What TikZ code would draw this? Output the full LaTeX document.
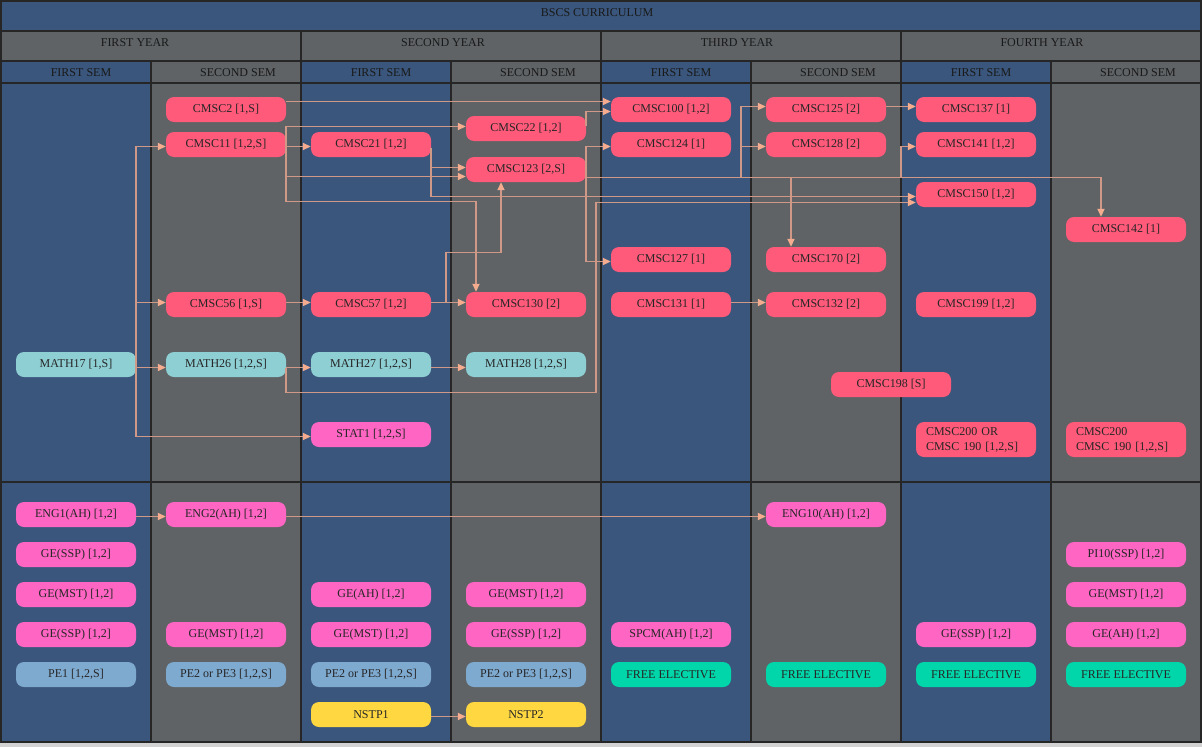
\documentclass[tikz,border=0pt]{standalone}
\usepackage{fontspec}
\setmainfont{Liberation Serif}
\usepackage{tikz}
\usetikzlibrary{positioning,arrows.meta,calc}
\definecolor{semblue}{RGB}{58,86,124}
\definecolor{semgray}{RGB}{95,99,102}
\definecolor{cscol}{RGB}{255,90,122}
\definecolor{mathcol}{RGB}{142,207,212}
\definecolor{gecol}{RGB}{255,102,196}
\definecolor{pecol}{RGB}{127,170,208}
\definecolor{nstpcol}{RGB}{255,215,64}
\definecolor{freecol}{RGB}{0,214,170}
\definecolor{arrcol}{RGB}{208,152,134}
\definecolor{tipcol}{RGB}{245,172,142}

\begin{document}
\begin{tikzpicture}[x=1pt,y=-1pt,
  cell/.style={draw=black!85,line width=1.2pt},
  hd/.style={font=\fontsize{12}{14}\selectfont,text=black!90},
  crs/.style={rounded corners=8pt,minimum width=120pt,minimum height=25pt,inner sep=0pt,font=\fontsize{12}{15}\selectfont,text=black!85},
  cs/.style={crs,fill=cscol},
  mth/.style={crs,fill=mathcol},
  ge/.style={crs,fill=gecol},
  pe/.style={crs,fill=pecol},
  nstp/.style={crs,fill=nstpcol},
  free/.style={crs,fill=freecol},
  arr/.style={draw=arrcol,line width=1.8pt,-{Triangle[length=8pt,width=7pt,color=tipcol]}}]
\useasboundingbox (0,0) rectangle (1202,747);
\fill[gray!35] (0,0) rectangle (1202,747);

% title and years
\draw[cell,fill=semblue] (1,1) rectangle (1201,31);
\node[hd] (title) at (597,13) {BSCS CURRICULUM};
\draw[cell,fill=semgray] (1,31) rectangle (301,61);
\draw[cell,fill=semgray] (301,31) rectangle (601,61);
\draw[cell,fill=semgray] (601,31) rectangle (901,61);
\draw[cell,fill=semgray] (901,31) rectangle (1201,61);
\node[hd] (y1) at (135,43) {FIRST YEAR};
\node[hd] (y2) at (443,43) {SECOND YEAR};
\node[hd] (y3) at (737,43) {THIRD YEAR};
\node[hd] (y4) at (1042,43) {FOURTH YEAR};

% semester columns
\draw[cell,fill=semblue] (1,61) rectangle (151,742);
\draw[cell,fill=semgray] (151,61) rectangle (301,742);
\draw[cell,fill=semblue] (301,61) rectangle (451,742);
\draw[cell,fill=semgray] (451,61) rectangle (601,742);
\draw[cell,fill=semblue] (601,61) rectangle (751,742);
\draw[cell,fill=semgray] (751,61) rectangle (901,742);
\draw[cell,fill=semblue] (901,61) rectangle (1051,742);
\draw[cell,fill=semgray] (1051,61) rectangle (1201,742);
\draw[cell] (1,83) -- (1201,83);
\draw[cell] (1,482) -- (1201,482);
\node[hd] (s1) at (81,73) {FIRST SEM};
\node[hd] (s2) at (238,73) {SECOND SEM};
\node[hd] (s3) at (381,73) {FIRST SEM};
\node[hd] (s4) at (538,73) {SECOND SEM};
\node[hd] (s5) at (681,73) {FIRST SEM};
\node[hd] (s6) at (838,73) {SECOND SEM};
\node[hd] (s7) at (981,73) {FIRST SEM};
\node[hd] (s8) at (1138,73) {SECOND SEM};

% major courses
\node[mth] (m17) at (76,364.5) {MATH17 [1,S]};
\node[cs] (c2) at (226,109.5) {CMSC2 [1,S]};
\node[cs] (c11) at (226,144.5) {CMSC11 [1,2,S]};
\node[cs] (c56) at (226,304.5) {CMSC56 [1,S]};
\node[mth] (m26) at (226,364.5) {MATH26 [1,2,S]};
\node[cs] (c21) at (371,144.5) {CMSC21 [1,2]};
\node[cs] (c57) at (371,304.5) {CMSC57 [1,2]};
\node[mth] (m27) at (371,364.5) {MATH27 [1,2,S]};
\node[ge] (st1) at (371,434.5) {STAT1 [1,2,S]};
\node[cs] (c22) at (526,128.5) {CMSC22 [1,2]};
\node[cs] (c123) at (526,169.5) {CMSC123 [2,S]};
\node[cs] (c130) at (526,304.5) {CMSC130 [2]};
\node[mth] (m28) at (526,364.5) {MATH28 [1,2,S]};
\node[cs] (c100) at (671,109.5) {CMSC100 [1,2]};
\node[cs] (c124) at (671,144.5) {CMSC124 [1]};
\node[cs] (c127) at (671,259.5) {CMSC127 [1]};
\node[cs] (c131) at (671,304.5) {CMSC131 [1]};
\node[cs] (c125) at (826,109.5) {CMSC125 [2]};
\node[cs] (c128) at (826,144.5) {CMSC128 [2]};
\node[cs] (c170) at (826,259.5) {CMSC170 [2]};
\node[cs] (c132) at (826,304.5) {CMSC132 [2]};
\node[cs] (c198) at (891,384.5) {CMSC198 [S]};
\node[cs] (c137) at (976,109.5) {CMSC137 [1]};
\node[cs] (c141) at (976,144.5) {CMSC141 [1,2]};
\node[cs] (c150) at (976,194.5) {CMSC150 [1,2]};
\node[cs] (c199) at (976,304.5) {CMSC199 [1,2]};
\node[cs,minimum height=35pt,text width=100pt,align=left] (c200a) at (976,439.5) {CMSC200 OR\\CMSC 190 [1,2,S]};
\node[cs] (c142) at (1126,229.5) {CMSC142 [1]};
\node[cs,minimum height=35pt,text width=100pt,align=left] (c200b) at (1126,439.5) {CMSC200\\CMSC 190 [1,2,S]};

% general education
\node[ge] (eng1) at (76,514.5) {ENG1(AH) [1,2]};
\node[ge] (ge1a) at (76,554.5) {GE(SSP) [1,2]};
\node[ge] (ge1b) at (76,594.5) {GE(MST) [1,2]};
\node[ge] (ge1c) at (76,634.5) {GE(SSP) [1,2]};
\node[pe] (pe1) at (76,674.5) {PE1 [1,2,S]};
\node[ge] (eng2) at (226,514.5) {ENG2(AH) [1,2]};
\node[ge] (ge2a) at (226,634.5) {GE(MST) [1,2]};
\node[pe] (pe2) at (226,674.5) {PE2 or PE3 [1,2,S]};
\node[ge] (ge3a) at (371,594.5) {GE(AH) [1,2]};
\node[ge] (ge3b) at (371,634.5) {GE(MST) [1,2]};
\node[pe] (pe3) at (371,674.5) {PE2 or PE3 [1,2,S]};
\node[nstp] (nstp1) at (371,714.5) {NSTP1};
\node[ge] (ge4a) at (526,594.5) {GE(MST) [1,2]};
\node[ge] (ge4b) at (526,634.5) {GE(SSP) [1,2]};
\node[pe] (pe4) at (526,674.5) {PE2 or PE3 [1,2,S]};
\node[nstp] (nstp2) at (526,714.5) {NSTP2};
\node[ge] (spcm) at (671,634.5) {SPCM(AH) [1,2]};
\node[free] (fe5) at (671,674.5) {FREE ELECTIVE};
\node[ge] (eng10) at (826,514.5) {ENG10(AH) [1,2]};
\node[free] (fe6) at (826,674.5) {FREE ELECTIVE};
\node[ge] (ge7a) at (976,634.5) {GE(SSP) [1,2]};
\node[free] (fe7) at (976,674.5) {FREE ELECTIVE};
\node[ge] (pi10) at (1126,554.5) {PI10(SSP) [1,2]};
\node[ge] (ge8a) at (1126,594.5) {GE(MST) [1,2]};
\node[ge] (ge8b) at (1126,634.5) {GE(AH) [1,2]};
\node[free] (fe8) at (1126,674.5) {FREE ELECTIVE};

% prerequisites
\draw[arr] ($(m17.east)+(0,3)$) -- ($(m26.west)+(0,3)$);
\draw[arr] ($(m17.east)+(0,3)$) |- ($(c11.west)+(0,2)$);
\draw[arr] ($(m17.east)+(0,3)$) |- ($(c56.west)+(0,-2)$);
\draw[arr] ($(m17.east)+(0,3)$) |- ($(st1.west)+(0,2)$);
\draw[arr] ($(c2.east)+(0,-8)$) -- ($(c100.west)+(0,-8)$);
\draw[arr] ($(c11.east)+(0,2)$) -- ($(c21.west)+(0,2)$);
\draw[arr] ($(c11.east)+(0,2)$) |- ($(c22.west)+(0,-2)$);
\draw[arr] ($(c11.east)+(0,2)$) |- ($(c123.west)+(0,7)$);
\draw[arr] ($(c11.east)+(0,2)$) -- ($(c11.east)+(0,57)$) -| ($(c130.north)+(-50,0)$);
\draw[arr] ($(c56.east)+(0,-2)$) -- ($(c57.west)+(0,-2)$);
\draw[arr] ($(m26.east)+(0,3)$) -- ($(m27.west)+(0,3)$);
\draw[arr] ($(m26.east)+(0,3)$) -- ++(0,25) -| ($(c150.west)+(-320,8)$) -- ($(c150.west)+(0,8)$);
\draw[arr] ($(c21.east)+(0,3)$) |- ($(c123.west)+(0,-2)$);
\draw[arr] ($(c21.east)+(0,3)$) |- ($(c150.west)+(0,2)$);
\draw[arr] ($(c57.east)+(0,-2)$) -- ($(c130.west)+(0,-2)$);
\draw[arr] ($(c57.east)+(0,-2)$) -- ++(15,0) -- ++(0,-50) -| ($(c123.south)+(-25,0)$);
\draw[arr] ($(m27.east)+(0,3)$) -- ($(m28.west)+(0,3)$);
\draw[arr] ($(c22.east)+(0,-3)$) |- ($(c100.west)+(0,2)$);
\draw[arr] ($(c123.east)+(0,8)$) |- ($(c124.west)+(0,2)$);
\draw[arr] ($(c123.east)+(0,8)$) |- ($(c127.west)+(0,2)$);
\draw[arr] ($(c123.east)+(0,8)$) -| ($(c125.west)+(-25,-3)$) -- ($(c125.west)+(0,-3)$);
\draw[arr] ($(c123.east)+(0,8)$) -| ($(c128.west)+(-25,2)$) -- ($(c128.west)+(0,2)$);
\draw[arr] ($(c123.east)+(0,8)$) -| ($(c170.north)+(-35,0)$);
\draw[arr] ($(c123.east)+(0,8)$) -| ($(c141.west)+(-15,2)$) -- ($(c141.west)+(0,2)$);
\draw[arr] ($(c123.east)+(0,8)$) -| ($(c142.north)+(-25,0)$);
\draw[arr] ($(c125.east)+(0,-3)$) -- ($(c137.west)+(0,-3)$);
\draw[arr] ($(c131.east)+(0,-2)$) -- ($(c132.west)+(0,-2)$);
\draw[arr] ($(eng1.east)+(0,2)$) -- ($(eng2.west)+(0,2)$);
\draw[arr] ($(eng2.east)+(0,2)$) -- ($(eng10.west)+(0,2)$);
\draw[arr] ($(nstp1.east)+(0,2)$) -- ($(nstp2.west)+(0,2)$);
\end{tikzpicture}
\end{document}
